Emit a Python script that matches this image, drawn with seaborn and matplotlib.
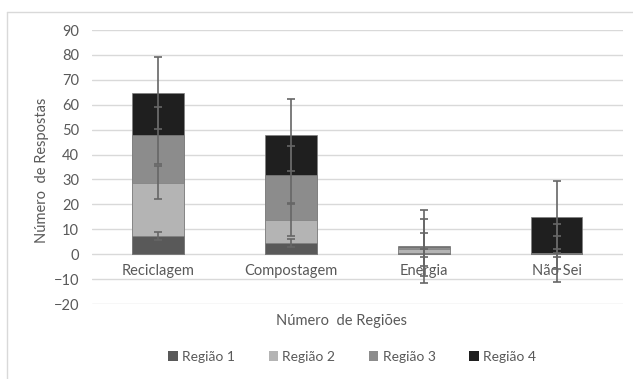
import numpy as np
import pandas as pd
import matplotlib
matplotlib.use('Agg')
import matplotlib.pyplot as plt
import seaborn as sns
from matplotlib.lines import Line2D
from matplotlib.patches import Patch

# dados
categorias = ['Reciclagem', 'Compostagem', 'Energia', 'Não Sei']
regiao1 = [7.25, 4.5, 0.5, 0.5]
regiao2 = [21.5, 9.25, 1.5, 0.0]
regiao3 = [19.0, 18.0, 0.8, 0.0]
regiao4 = [17.0, 16.0, 0.3, 14.4]
series = ['Região 1', 'Região 2', 'Região 3', 'Região 4']
erros = [1.6, 6.6, 11.5, 14.5]
cores = ['#595959', '#b4b4b4', '#8c8c8c', '#1f1f1f']

sns.set_style('white')
plt.rcParams['font.family'] = ['Lato', 'DejaVu Sans']
cinza = '#595959'

df = pd.DataFrame({'categoria': categorias, 'Região 1': regiao1, 'Região 2': regiao2,
                   'Região 3': regiao3, 'Região 4': regiao4})
acum = df[series].cumsum(axis=1)
acum['categoria'] = df['categoria']

fig = plt.figure(figsize=(6.33, 3.79), dpi=100)
ax = fig.add_axes([91.5 / 633, 1 - 304 / 379, (623 - 91.5) / 633, 274 / 379])

# barras empilhadas: desenha do topo para baixo
for s, c in reversed(list(zip(series, cores))):
    sns.barplot(data=acum, x='categoria', y=s, color=c, width=0.39, errorbar=None,
                saturation=1, ax=ax, zorder=3, edgecolor='#7f7f7f', linewidth=0.5)

# barras de erro
pos = np.arange(len(categorias))
for s, e in zip(series, erros):
    ax.errorbar(pos, acum[s], yerr=e, fmt='none', ecolor='#666666', elinewidth=1.2,
                capsize=3, capthick=1.2, zorder=4)

ax.set_ylim(-20, 90)
ax.set_xlim(-0.5, 3.5)
ax.set_yticks(range(-20, 91, 10))
ax.yaxis.grid(True, color='#d9d9d9', linewidth=1)
ax.set_axisbelow(True)
for sp in ax.spines.values():
    sp.set_visible(False)
ax.spines['bottom'].set_position(('data', 0))
ax.tick_params(axis='both', length=0, labelsize=10.5, labelcolor=cinza)
ax.tick_params(axis='x', pad=7)
ax.tick_params(axis='y', pad=9)
ax.set_xlabel('')
ax.set_ylabel('')

fig.text(42 / 633, 1 - 170 / 379, 'Número  de Respostas', rotation=90, ha='center',
         va='center', fontsize=10.5, color=cinza)
fig.text(341 / 633, 1 - 321 / 379, 'Número  de Regiões', ha='center', va='center',
         fontsize=10.5, color=cinza)

handles = [Patch(facecolor=c, edgecolor='none') for c in cores]
fig.legend(handles, series, loc='center', bbox_to_anchor=(352 / 633, 1 - 357 / 379),
           ncol=4, frameon=False, fontsize=10, labelcolor=cinza, handlelength=0.7,
           handleheight=0.7, handletextpad=0.3, columnspacing=2.4)

# moldura do grafico
fig.add_artist(Line2D([7 / 633, 7 / 633], [0, 1 - 12 / 379], color='#d9d9d9', lw=1))
fig.add_artist(Line2D([7 / 633, 1], [1 - 12 / 379, 1 - 12 / 379], color='#d9d9d9', lw=1))

fig.savefig('out.png', dpi=100)
